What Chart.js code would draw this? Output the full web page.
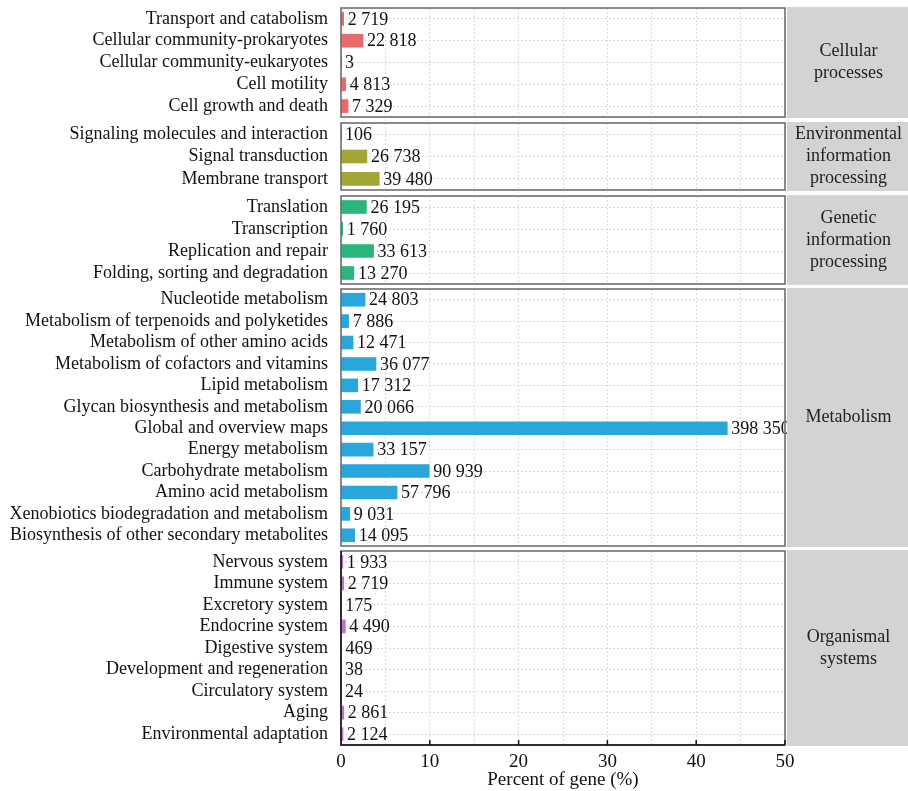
<!DOCTYPE html>
<html>
<head>
<meta charset="utf-8">
<script src="https://cdn.jsdelivr.net/npm/chart.js@4.4.1/dist/chart.umd.min.js"></script>
<style>
  html, body { margin: 0; padding: 0; background: #fff; }
  #wrap { position: relative; width: 908px; height: 791px; overflow: hidden; }
  #wrap canvas { position: absolute; left: 0; }
</style>
</head>
<body>
<div id="wrap"></div>
<script>
// ---- data ----
const cellularLabels = ['Transport and catabolism', 'Cellular community-prokaryotes', 'Cellular community-eukaryotes', 'Cell motility', 'Cell growth and death'];
const cellularCounts = [2719, 22818, 3, 4813, 7329];
const cellularPercent = [0.30, 2.49, 0.0003, 0.53, 0.80];

const envLabels = ['Signaling molecules and interaction', 'Signal transduction', 'Membrane transport'];
const envCounts = [106, 26738, 39480];
const envPercent = [0.012, 2.92, 4.31];

const geneticLabels = ['Translation', 'Transcription', 'Replication and repair', 'Folding, sorting and degradation'];
const geneticCounts = [26195, 1760, 33613, 13270];
const geneticPercent = [2.86, 0.19, 3.67, 1.45];

const metabolismLabels = ['Nucleotide metabolism', 'Metabolism of terpenoids and polyketides', 'Metabolism of other amino acids',
  'Metabolism of cofactors and vitamins', 'Lipid metabolism', 'Glycan biosynthesis and metabolism', 'Global and overview maps',
  'Energy metabolism', 'Carbohydrate metabolism', 'Amino acid metabolism', 'Xenobiotics biodegradation and metabolism',
  'Biosynthesis of other secondary metabolites'];
const metabolismCounts = [24803, 7886, 12471, 36077, 17312, 20066, 398350, 33157, 90939, 57796, 9031, 14095];
const metabolismPercent = [2.71, 0.86, 1.36, 3.94, 1.89, 2.19, 43.50, 3.62, 9.93, 6.31, 0.99, 1.54];

const organismalLabels = ['Nervous system', 'Immune system', 'Excretory system', 'Endocrine system', 'Digestive system',
  'Development and regeneration', 'Circulatory system', 'Aging', 'Environmental adaptation'];
const organismalCounts = [1933, 2719, 175, 4490, 469, 38, 24, 2861, 2124];
const organismalPercent = [0.21, 0.30, 0.019, 0.49, 0.051, 0.004, 0.003, 0.31, 0.23];

const xTicks = [0, 10, 20, 30, 40, 50];

// ---- layout ----
const FONT = "'Liberation Serif', 'Times New Roman', serif";
const panels = [
  { strip: ['Cellular', 'processes'], labels: cellularLabels, counts: cellularCounts, pct: cellularPercent, color: '#e96a6a', top: 8, bottom: 117 },
  { strip: ['Environmental', 'information', 'processing'], labels: envLabels, counts: envCounts, pct: envPercent, color: '#a3a535', top: 123, bottom: 190 },
  { strip: ['Genetic', 'information', 'processing'], labels: geneticLabels, counts: geneticCounts, pct: geneticPercent, color: '#2bb57c', top: 196, bottom: 284 },
  { strip: ['Metabolism'], labels: metabolismLabels, counts: metabolismCounts, pct: metabolismPercent, color: '#29a6db', top: 289, bottom: 546 },
  { strip: ['Organismal', 'systems'], labels: organismalLabels, counts: organismalCounts, pct: organismalPercent, color: '#c070d0', top: 551, bottom: 745 }
];

const fmt = n => String(n).replace(/\B(?=(\d{3})+(?!\d))/g, ' ');

function decor(p, last) {
  return {
    id: 'decor',
    afterDatasetsDraw(chart) {
      const ctx = chart.ctx;
      ctx.save();
      ctx.font = '18px ' + FONT;
      ctx.fillStyle = '#111';
      ctx.textBaseline = 'middle';
      ctx.textAlign = 'left';
      chart.getDatasetMeta(0).data.forEach((bar, i) => {
        ctx.fillText(fmt(p.counts[i]), bar.x + 4, bar.y + 1);
      });
      ctx.restore();
    },
    afterDraw(chart) {
      const ctx = chart.ctx, a = chart.chartArea, xs = chart.scales.x;
      ctx.save();
      ctx.lineWidth = 1.5;
      ctx.strokeStyle = '#666';
      ctx.strokeRect(a.left, a.top, a.right - a.left, a.bottom - a.top);
      if (last) {
        ctx.strokeStyle = '#111';
        ctx.beginPath();
        ctx.moveTo(a.left, a.top);
        ctx.lineTo(a.left, a.bottom);
        ctx.lineTo(a.right, a.bottom);
        xTicks.forEach(v => {
          const x = xs.getPixelForValue(v);
          ctx.moveTo(x, a.bottom);
          ctx.lineTo(x, a.bottom - 5);
        });
        ctx.stroke();
      }
      // strip
      ctx.fillStyle = '#d3d3d3';
      ctx.fillRect(a.right + 2, a.top - 1, chart.width - a.right - 2, a.bottom - a.top + 2);
      ctx.fillStyle = '#222';
      ctx.font = '18px ' + FONT;
      ctx.textAlign = 'center';
      ctx.textBaseline = 'middle';
      const cx = (a.right + 2 + chart.width) / 2 + 1;
      const cy = (a.top + a.bottom) / 2;
      const lh = 22;
      p.strip.forEach((s, i) => {
        ctx.fillText(s, cx, cy + (i - (p.strip.length - 1) / 2) * lh);
      });
      ctx.restore();
    }
  };
}

const wrap = document.getElementById('wrap');
panels.forEach((p, idx) => {
  const last = idx === panels.length - 1;
  const canvas = document.createElement('canvas');
  const top = p.top - 2;
  const height = last ? 791 - top : p.bottom - p.top + 4;
  canvas.width = 908;
  canvas.height = height;
  canvas.style.top = top + 'px';
  canvas.style.width = '908px';
  canvas.style.height = height + 'px';
  wrap.appendChild(canvas);

  new Chart(canvas.getContext('2d'), {
    type: 'bar',
    data: {
      labels: p.labels,
      datasets: [{
        data: p.pct,
        backgroundColor: p.color,
        barThickness: 13,
        borderWidth: 0
      }]
    },
    options: {
      indexAxis: 'y',
      responsive: false,
      animation: false,
      devicePixelRatio: 1,
      layout: { padding: { top: 2, bottom: last ? 0 : 2, left: 0, right: 123 } },
      plugins: { legend: { display: false }, tooltip: { enabled: false } },
      scales: {
        x: {
          min: 0, max: 50,
          afterFit: s => { s.height = last ? 46 : 0; },
          border: { display: false, dash: [2, 2] },
          grid: { color: '#d9d9d9', lineWidth: 1, drawTicks: false },
          ticks: {
            display: last,
            stepSize: 5,
            padding: 6,
            color: '#111',
            font: { family: FONT, size: 19 },
            callback: v => (v % 10 === 0 ? v : '')
          },
          title: {
            display: last,
            text: 'Percent of gene (%)',
            color: '#111',
            font: { family: FONT, size: 19 },
            padding: { top: 0, bottom: 0 }
          }
        },
        y: {
          afterFit: s => { s.width = 341; s.paddingTop = 0; s.paddingBottom = 0; },
          border: { display: false, dash: [2, 2] },
          grid: { offset: false, color: '#d9d9d9', lineWidth: 1, drawTicks: false },
          ticks: {
            padding: 13,
            color: '#111',
            autoSkip: false,
            font: { family: FONT, size: 18 }
          }
        }
      }
    },
    plugins: [decor(p, last)]
  });
});
</script>
</body>
</html>
